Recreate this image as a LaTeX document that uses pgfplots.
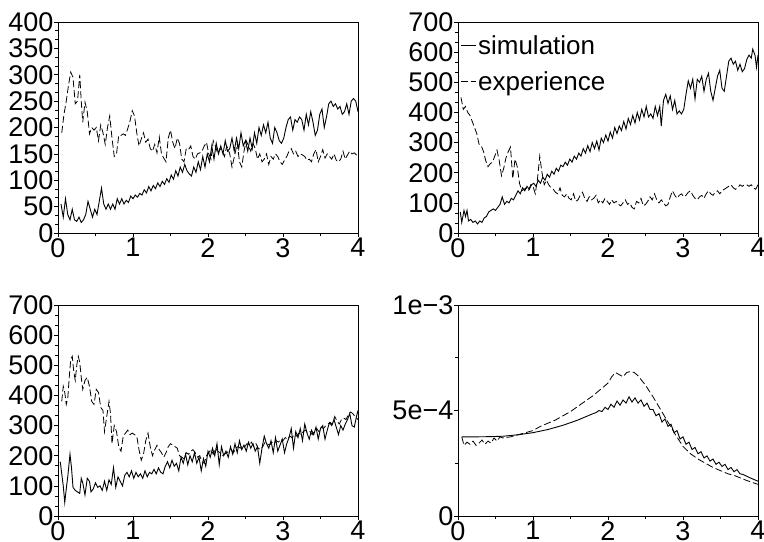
\documentclass[border=0pt]{standalone}
\usepackage{fontspec}
\setmainfont{Liberation Sans}
\usepackage{pgfplots}
\pgfplotsset{compat=1.18}
\pgfplotsset{
  myax/.style={
    scale only axis, width=300bp, height=211bp,
    xmin=0, xmax=4, xtick={0,1,2,3,4}, minor x tick num=1,
    tick pos=left, tick align=outside,
    major tick length=4bp, minor tick length=3bp,
    every tick/.style={black, line width=0.7bp},
    axis line style={line width=0.8bp},
    tick label style={font=\fontsize{27bp}{27bp}\selectfont},
    /pgf/number format/assume math mode=true,
    yticklabel style={inner sep=0.5bp},
    xticklabel style={inner sep=1bp},
    clip=false,
  },
  sim/.style={black, line width=0.9bp},
  exp/.style={black, line width=0.8bp, dash pattern=on 7bp off 3bp},
}
\begin{document}
\begin{tikzpicture}
\path[use as bounding box] (0bp,0bp) rectangle (764bp,-542bp);
% ---------------- panel 1
\begin{axis}[myax, at={(58bp,-233bp)}, anchor=south west,
  ymin=0, ymax=400, ytick={0,50,...,400}, minor y tick num=2]
\addplot[sim] coordinates {
(0.04,55)(0.07,30)(0.1,65)(0.13,35)(0.16,25)(0.19,45)(0.22,25)(0.25,22)(0.28,30)(0.31,20)
(0.34,25)(0.37,35)(0.4,60)(0.43,45)(0.46,30)(0.49,45)(0.52,35)(0.55,60)(0.58,85)(0.61,55)
(0.64,45)(0.67,55)(0.7,45)(0.73,55)(0.76,45)(0.79,65)(0.82,55)(0.85,65)(0.88,55)(0.91,62)
(0.94,58)(0.97,70)(1.0,65)(1.03,72)(1.06,68)(1.09,75)(1.12,72)(1.15,82)(1.18,76)(1.21,88)
(1.24,80)(1.27,90)(1.3,84)(1.33,95)(1.36,88)(1.39,98)(1.42,92)(1.45,103)(1.48,96)(1.51,110)
(1.54,102)(1.57,118)(1.6,108)(1.63,125)(1.66,115)(1.69,130)(1.72,118)(1.75,112)(1.78,108)(1.81,125)
(1.84,115)(1.87,135)(1.9,120)(1.93,145)(1.96,125)(1.99,150)(2.02,135)(2.05,165)(2.08,140)(2.11,170)
(2.14,150)(2.17,165)(2.2,150)(2.23,175)(2.26,155)(2.29,160)(2.32,180)(2.35,155)(2.38,180)(2.41,160)
(2.44,190)(2.47,165)(2.5,175)(2.53,155)(2.56,180)(2.59,160)(2.62,190)(2.65,170)(2.68,200)(2.71,185)
(2.74,205)(2.77,190)(2.8,210)(2.83,180)(2.86,170)(2.89,200)(2.92,190)(2.95,175)(2.98,170)(3.01,180)
(3.04,200)(3.07,215)(3.1,220)(3.13,195)(3.16,215)(3.19,210)(3.22,220)(3.25,215)(3.28,195)(3.31,225)
(3.34,205)(3.37,230)(3.4,210)(3.43,185)(3.46,195)(3.49,225)(3.52,235)(3.55,200)(3.58,220)(3.61,245)
(3.64,250)(3.67,240)(3.7,245)(3.73,235)(3.76,240)(3.79,225)(3.82,230)(3.85,245)(3.88,225)(3.91,250)
(3.94,255)(3.97,250)(4.0,230)};
\addplot[exp] coordinates {
(0.05,190)(0.08,225)(0.11,250)(0.14,280)(0.17,305)(0.2,295)(0.23,245)(0.26,250)(0.29,300)(0.31,250)
(0.33,210)(0.36,248)(0.39,230)(0.42,188)(0.45,200)(0.48,195)(0.51,200)(0.54,175)(0.57,205)(0.6,190)
(0.63,168)(0.66,200)(0.69,222)(0.72,180)(0.75,145)(0.78,150)(0.81,185)(0.84,185)(0.87,188)(0.9,185)
(0.93,198)(0.96,212)(0.99,232)(1.02,222)(1.05,190)(1.08,165)(1.11,178)(1.14,190)(1.17,172)(1.2,178)
(1.23,160)(1.26,155)(1.29,168)(1.32,152)(1.35,182)(1.38,150)(1.41,142)(1.44,135)(1.47,180)(1.5,195)
(1.53,172)(1.56,160)(1.59,180)(1.62,170)(1.65,140)(1.68,135)(1.71,160)(1.74,158)(1.77,165)(1.8,145)
(1.83,140)(1.86,150)(1.89,152)(1.92,155)(1.95,165)(1.98,172)(2.01,150)(2.04,140)(2.07,175)(2.1,165)
(2.13,150)(2.16,160)(2.19,155)(2.22,145)(2.25,165)(2.29,150)(2.32,125)(2.36,150)(2.39,170)(2.42,135)
(2.45,125)(2.48,155)(2.51,175)(2.54,165)(2.57,155)(2.6,170)(2.63,160)(2.66,140)(2.69,150)(2.72,135)
(2.75,140)(2.78,150)(2.81,130)(2.84,145)(2.87,140)(2.9,150)(2.93,145)(2.96,135)(2.99,130)(3.02,138)
(3.05,145)(3.08,155)(3.11,160)(3.14,150)(3.17,155)(3.2,145)(3.23,150)(3.26,148)(3.29,145)(3.32,138)
(3.35,140)(3.38,135)(3.41,150)(3.44,158)(3.47,135)(3.5,145)(3.53,158)(3.56,142)(3.59,150)(3.62,145)
(3.65,140)(3.68,150)(3.71,138)(3.74,135)(3.77,140)(3.8,155)(3.83,140)(3.86,148)(3.89,155)(3.92,150)
(3.95,152)(3.98,148)(4.0,150)};
\end{axis}
% ---------------- panel 2
\begin{axis}[myax, at={(458bp,-233bp)}, anchor=south west,
  ymin=0, ymax=700, ytick={0,100,...,700}, minor y tick num=2,
  legend style={at={(axis description cs:0,1)}, anchor=north west, draw=none, fill=none,
    font=\fontsize{26bp}{26bp}\selectfont, row sep=12bp, inner xsep=2bp, inner ysep=11bp,
    nodes={inner xsep=2bp}},
  legend cell align=left,
  legend image code/.code={\draw[#1] (0bp,0bp) -- (15bp,0bp);}]
\addplot[sim] coordinates {
(0.03,70)(0.05,35)(0.08,75)(0.1,55)(0.12,75)(0.14,40)(0.17,45)(0.2,35)(0.23,40)(0.26,30)
(0.29,40)(0.32,35)(0.35,50)(0.38,55)(0.41,70)(0.44,75)(0.47,80)(0.5,75)(0.53,85)(0.56,95)
(0.59,120)(0.62,95)(0.65,105)(0.68,100)(0.71,115)(0.74,110)(0.77,125)(0.8,140)(0.83,130)(0.86,150)
(0.89,140)(0.92,155)(0.95,145)(0.98,160)(1.01,165)(1.04,155)(1.07,175)(1.1,165)(1.13,185)(1.16,175)
(1.19,195)(1.22,185)(1.25,205)(1.28,195)(1.31,215)(1.34,205)(1.37,225)(1.4,220)(1.43,235)(1.46,225)
(1.49,245)(1.52,235)(1.55,255)(1.58,245)(1.61,265)(1.64,255)(1.67,280)(1.7,265)(1.73,290)(1.76,270)
(1.79,300)(1.82,280)(1.85,305)(1.88,275)(1.91,315)(1.94,300)(1.97,325)(2.0,305)(2.03,335)(2.06,315)
(2.09,350)(2.12,330)(2.15,355)(2.18,340)(2.21,370)(2.24,345)(2.27,380)(2.3,360)(2.33,390)(2.36,365)
(2.39,400)(2.42,375)(2.45,410)(2.48,385)(2.51,420)(2.54,385)(2.57,395)(2.6,380)(2.63,420)(2.66,390)
(2.69,420)(2.71,355)(2.74,440)(2.77,460)(2.8,430)(2.83,455)(2.86,410)(2.89,440)(2.92,395)(2.95,405)
(2.98,395)(3.01,410)(3.04,460)(3.07,505)(3.1,480)(3.13,510)(3.16,445)(3.19,510)(3.22,500)(3.25,520)
(3.28,470)(3.31,510)(3.34,530)(3.37,470)(3.4,440)(3.43,480)(3.46,520)(3.49,540)(3.52,480)(3.55,470)
(3.58,520)(3.61,570)(3.64,580)(3.67,560)(3.7,570)(3.73,540)(3.76,560)(3.79,535)(3.82,545)(3.85,575)
(3.88,590)(3.91,580)(3.93,610)(3.96,590)(3.98,550)(4.0,590)};
\addlegendentry{simulation}
\addplot[exp] coordinates {
(0.04,450)(0.07,410)(0.1,420)(0.13,400)(0.16,390)(0.19,370)(0.22,350)(0.25,330)(0.28,295)(0.31,290)
(0.34,270)(0.37,240)(0.4,220)(0.43,230)(0.46,235)(0.49,255)(0.52,275)(0.55,240)(0.58,190)(0.61,215)
(0.64,250)(0.67,270)(0.7,285)(0.73,180)(0.76,245)(0.79,220)(0.82,165)(0.85,140)(0.88,145)(0.91,150)
(0.94,140)(0.97,160)(1.0,155)(1.03,130)(1.06,180)(1.09,255)(1.12,200)(1.15,160)(1.18,175)(1.21,160)
(1.24,150)(1.27,145)(1.3,135)(1.33,130)(1.36,150)(1.39,125)(1.42,120)(1.45,130)(1.48,115)(1.51,110)
(1.54,130)(1.57,105)(1.6,110)(1.63,125)(1.66,135)(1.69,115)(1.72,105)(1.75,120)(1.78,110)(1.81,115)
(1.84,125)(1.87,100)(1.9,110)(1.93,100)(1.96,115)(1.99,105)(2.02,95)(2.05,110)(2.08,100)(2.11,105)
(2.14,95)(2.17,90)(2.2,100)(2.23,110)(2.26,95)(2.29,100)(2.32,85)(2.35,80)(2.38,105)(2.41,100)
(2.44,115)(2.47,90)(2.5,95)(2.53,105)(2.56,120)(2.59,110)(2.62,130)(2.65,110)(2.68,100)(2.71,110)
(2.74,100)(2.77,90)(2.8,95)(2.83,120)(2.86,140)(2.89,125)(2.92,115)(2.95,125)(2.98,130)(3.01,120)
(3.04,125)(3.07,135)(3.1,140)(3.13,125)(3.16,115)(3.19,110)(3.22,120)(3.25,125)(3.28,115)(3.31,130)
(3.34,140)(3.37,130)(3.4,125)(3.43,135)(3.46,140)(3.49,130)(3.52,140)(3.55,145)(3.58,150)(3.61,155)
(3.64,160)(3.67,150)(3.7,145)(3.73,150)(3.76,160)(3.79,155)(3.82,160)(3.85,160)(3.88,155)(3.91,160)
(3.94,150)(3.97,145)(4.0,160)};
\addlegendentry{experience}
\end{axis}
% ---------------- panel 3
\begin{axis}[myax, at={(58bp,-516bp)}, anchor=south west,
  ymin=0, ymax=700, ytick={0,100,...,700}, minor y tick num=2]
\addplot[sim] coordinates {
(0.03,180)(0.05,140)(0.07,100)(0.09,45)(0.11,90)(0.13,130)(0.16,205)(0.18,160)(0.2,95)(0.23,85)
(0.26,80)(0.29,75)(0.31,125)(0.33,110)(0.36,70)(0.39,125)(0.42,115)(0.44,80)(0.47,90)(0.5,110)
(0.53,95)(0.56,100)(0.59,85)(0.62,115)(0.65,85)(0.68,120)(0.71,105)(0.74,160)(0.77,95)(0.8,130)
(0.83,115)(0.86,100)(0.89,135)(0.92,145)(0.95,130)(0.98,150)(1.01,125)(1.04,145)(1.07,130)(1.1,140)
(1.13,125)(1.16,150)(1.19,130)(1.22,145)(1.25,140)(1.28,155)(1.31,140)(1.34,160)(1.37,145)(1.4,140)
(1.43,165)(1.46,180)(1.49,160)(1.52,185)(1.55,165)(1.58,175)(1.61,150)(1.64,195)(1.67,175)(1.7,205)
(1.73,170)(1.76,200)(1.79,180)(1.82,210)(1.85,175)(1.88,195)(1.91,150)(1.94,190)(1.97,165)(2.0,215)
(2.03,195)(2.06,225)(2.09,200)(2.12,240)(2.15,170)(2.18,230)(2.21,200)(2.24,215)(2.27,195)(2.3,230)
(2.33,205)(2.36,240)(2.39,210)(2.42,250)(2.45,220)(2.48,235)(2.51,215)(2.54,245)(2.57,225)(2.6,240)
(2.63,215)(2.66,230)(2.69,175)(2.72,225)(2.75,265)(2.78,240)(2.81,225)(2.84,250)(2.87,210)(2.9,260)
(2.93,215)(2.96,235)(2.99,255)(3.02,210)(3.05,240)(3.08,260)(3.11,290)(3.14,225)(3.17,280)(3.2,260)
(3.23,290)(3.26,250)(3.29,305)(3.32,275)(3.35,255)(3.38,285)(3.41,270)(3.44,295)(3.47,255)(3.5,290)
(3.53,300)(3.56,255)(3.59,285)(3.62,310)(3.65,300)(3.68,320)(3.71,295)(3.74,270)(3.77,300)(3.8,285)
(3.83,305)(3.86,320)(3.89,340)(3.92,300)(3.95,295)(3.98,330)(4.0,350)};
\addplot[exp] coordinates {
(0.05,380)(0.07,430)(0.09,410)(0.11,370)(0.13,390)(0.15,460)(0.17,520)(0.19,530)(0.21,480)(0.23,450)
(0.25,500)(0.27,530)(0.29,510)(0.31,460)(0.33,420)(0.36,450)(0.39,460)(0.42,430)(0.45,380)(0.48,370)
(0.51,420)(0.54,410)(0.57,360)(0.6,350)(0.62,280)(0.65,330)(0.68,380)(0.7,340)(0.72,240)(0.75,300)
(0.78,280)(0.81,230)(0.84,215)(0.87,265)(0.9,275)(0.93,285)(0.96,270)(0.99,275)(1.02,270)(1.05,265)
(1.08,220)(1.11,185)(1.14,205)(1.17,250)(1.2,275)(1.23,230)(1.26,200)(1.29,220)(1.32,235)(1.35,220)
(1.38,210)(1.41,195)(1.44,210)(1.47,230)(1.5,240)(1.53,235)(1.56,230)(1.59,225)(1.62,200)(1.65,195)
(1.68,190)(1.71,210)(1.74,205)(1.77,215)(1.8,220)(1.83,210)(1.86,195)(1.89,200)(1.92,180)(1.95,175)
(1.98,200)(2.01,210)(2.04,220)(2.07,205)(2.1,225)(2.13,215)(2.16,210)(2.19,200)(2.22,205)(2.25,210)
(2.28,215)(2.31,220)(2.34,210)(2.37,225)(2.4,230)(2.43,225)(2.46,235)(2.49,230)(2.52,240)(2.55,235)
(2.58,245)(2.61,230)(2.64,240)(2.67,225)(2.7,220)(2.73,230)(2.76,245)(2.79,240)(2.82,235)(2.85,245)
(2.88,240)(2.91,250)(2.94,245)(2.97,255)(3.0,250)(3.03,260)(3.06,255)(3.09,265)(3.12,260)(3.15,270)
(3.18,265)(3.21,275)(3.24,270)(3.27,280)(3.3,285)(3.33,275)(3.36,280)(3.39,270)(3.42,285)(3.45,290)
(3.48,280)(3.51,295)(3.54,290)(3.57,300)(3.6,305)(3.63,310)(3.66,305)(3.69,330)(3.72,315)(3.75,305)
(3.78,320)(3.81,325)(3.84,320)(3.87,335)(3.9,345)(3.93,340)(3.96,330)(4.0,320)};
\end{axis}
% ---------------- panel 4
\begin{axis}[myax, at={(458bp,-516bp)}, anchor=south west,
  ymin=0, ymax=1e-3, ytick={0,5e-4,1e-3}, yticklabels={0,5e−4,1e−3},
  minor ytick={2.5e-4,7.5e-4}, scaled y ticks=false]
\addplot[sim] coordinates {
(0.05,3.75e-4)(0.2,3.75e-4)(0.4,3.76e-4)(0.6,3.78e-4)(0.8,3.85e-4)(1.0,3.95e-4)(1.2,4.1e-4)(1.4,4.3e-4)
(1.6,4.55e-4)(1.7,4.7e-4)(1.8,4.85e-4)(1.84,4.9e-4)(1.88,5.0e-4)(1.92,4.95e-4)(1.96,5.15e-4)(2.0,5.05e-4)
(2.04,5.3e-4)(2.08,5.15e-4)(2.12,5.45e-4)(2.16,5.25e-4)(2.2,5.5e-4)(2.24,5.35e-4)(2.28,5.65e-4)(2.32,5.4e-4)
(2.36,5.6e-4)(2.4,5.35e-4)(2.44,5.5e-4)(2.48,5.2e-4)(2.52,5.35e-4)(2.56,5.05e-4)(2.6,5.05e-4)(2.64,4.75e-4)
(2.68,4.85e-4)(2.72,4.45e-4)(2.76,4.6e-4)(2.8,4.25e-4)(2.84,4.35e-4)(2.88,3.95e-4)(2.92,4.05e-4)(2.96,3.65e-4)
(3.0,3.75e-4)(3.04,3.4e-4)(3.08,3.5e-4)(3.12,3.15e-4)(3.16,3.25e-4)(3.2,2.95e-4)(3.24,3.05e-4)(3.28,2.75e-4)
(3.32,2.85e-4)(3.36,2.6e-4)(3.4,2.7e-4)(3.44,2.45e-4)(3.48,2.55e-4)(3.52,2.35e-4)(3.56,2.45e-4)(3.6,2.2e-4)
(3.64,2.3e-4)(3.68,2.1e-4)(3.72,2.2e-4)(3.76,2.0e-4)(3.8,1.97e-4)(3.9,1.8e-4)(4.0,1.65e-4)};
\addplot[exp] coordinates {
(0.05,3.75e-4)(0.08,3.35e-4)(0.12,3.5e-4)(0.16,3.4e-4)(0.2,3.55e-4)(0.24,3.35e-4)(0.28,3.45e-4)(0.32,3.6e-4)
(0.36,3.4e-4)(0.4,3.55e-4)(0.44,3.45e-4)(0.48,3.7e-4)(0.52,3.55e-4)(0.56,3.75e-4)(0.6,3.7e-4)(0.7,3.75e-4)
(0.8,3.85e-4)(0.9,3.95e-4)(1.0,4.05e-4)(1.1,4.25e-4)(1.2,4.4e-4)(1.3,4.55e-4)(1.4,4.75e-4)(1.5,4.95e-4)
(1.6,5.2e-4)(1.7,5.45e-4)(1.8,5.7e-4)(1.9,6.0e-4)(2.0,6.3e-4)(2.05,6.6e-4)(2.1,6.8e-4)(2.15,6.7e-4)
(2.2,6.6e-4)(2.25,6.8e-4)(2.3,6.85e-4)(2.35,6.8e-4)(2.4,6.65e-4)(2.5,6.2e-4)(2.6,5.65e-4)(2.7,5.05e-4)
(2.8,4.45e-4)(2.9,3.85e-4)(3.0,3.3e-4)(3.1,2.95e-4)(3.2,2.7e-4)(3.3,2.5e-4)(3.4,2.3e-4)(3.5,2.15e-4)
(3.6,2.0e-4)(3.7,1.9e-4)(3.8,1.75e-4)(3.9,1.62e-4)(4.0,1.5e-4)};
\end{axis}
\end{tikzpicture}
\end{document}
